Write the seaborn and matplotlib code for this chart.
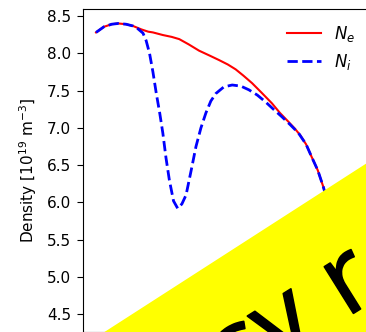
import matplotlib
matplotlib.use("Agg")
import matplotlib.pyplot as plt
import matplotlib.patheffects as pe
import seaborn as sns
from matplotlib.patches import Polygon

# ---- data ----
x_ne = [0, 0.03, 0.06, 0.085, 0.115, 0.142, 0.174, 0.2, 0.218, 0.256, 0.29, 0.319,
        0.355, 0.395, 0.435, 0.471, 0.505, 0.535, 0.565, 0.598, 0.635, 0.674, 0.705,
        0.738, 0.762, 0.782, 0.805, 0.826, 0.85, 0.871, 0.9, 0.93, 0.96, 1.0]
ne = [8.28, 8.355, 8.39, 8.40, 8.39, 8.366, 8.32, 8.29, 8.28, 8.245, 8.22, 8.19,
      8.12, 8.035, 7.97, 7.91, 7.85, 7.785, 7.70, 7.60, 7.47, 7.33, 7.20,
      7.08, 6.99, 6.905, 6.78, 6.614, 6.43, 6.21, 5.85, 5.40, 4.95, 4.47]

x_ni = [0, 0.03, 0.06, 0.085, 0.115, 0.142, 0.16, 0.18, 0.192, 0.205, 0.218, 0.231,
        0.244, 0.256, 0.268, 0.281, 0.297, 0.313, 0.329, 0.345, 0.364, 0.383, 0.402,
        0.421, 0.44, 0.459, 0.49, 0.522, 0.555, 0.586, 0.618, 0.649, 0.68, 0.712,
        0.745, 0.776, 0.805, 0.826, 0.85, 0.871, 0.9, 0.93, 0.96, 1.0]
ni = [8.28, 8.355, 8.39, 8.40, 8.39, 8.366, 8.33, 8.27, 8.17, 8.0, 7.75, 7.46,
      7.2, 6.93, 6.6, 6.30, 6.02, 5.92, 5.98, 6.10, 6.42, 6.75, 7.0,
      7.2, 7.36, 7.46, 7.55, 7.575, 7.56, 7.51, 7.44, 7.35, 7.25, 7.15,
      7.04, 6.93, 6.78, 6.614, 6.43, 6.21, 5.85, 5.40, 4.95, 4.47]

series_labels = ["$N_e$", "$N_i$"]
y_ticks = [4.5, 5.0, 5.5, 6.0, 6.5, 7.0, 7.5, 8.0, 8.5]
y_label = "Density [$10^{19}$ m$^{-3}$]"
banner_words = ["Easy", "r"]

# ---- figure ----
W, H = 366, 332
fig = plt.figure(figsize=(W / 100, H / 100), dpi=100)
ax = fig.add_axes([83 / W, 0.5 / H, (370 - 83) / W, (331.5 - 9) / H])

sns.lineplot(x=x_ne, y=ne, ax=ax, color="red", linewidth=1.5, label=series_labels[0])
sns.lineplot(x=x_ni, y=ni, ax=ax, color="blue", linewidth=2, linestyle="--",
             label=series_labels[1])

ax.set_ylim(4.27, 8.594)
ax.set_yticks(y_ticks)
ax.set_yticklabels([f"{v:.1f}" for v in y_ticks])
ax.tick_params(axis="y", labelsize=11, length=4.3, pad=4.1)
ax.tick_params(axis="x", labelbottom=False, length=4.3)
ax.set_ylabel(y_label, fontsize=11, labelpad=5.5)
ax.legend(loc="upper right", frameon=False, fontsize=12)

# yellow banner overlay
poly = Polygon([(99.3 / W, -0.01), (1.01, (H - 163.3) / H + 0.006), (1.01, -0.01)],
               closed=True, transform=fig.transFigure, facecolor="#ffff00",
               edgecolor="none", zorder=10)
fig.patches.append(poly)
common = dict(transform=fig.transFigure, rotation=32, rotation_mode="anchor",
              va="baseline", fontsize=74, family="Open Sans", color="black",
              zorder=11,
              path_effects=[pe.withStroke(linewidth=1.2, foreground="black")])
fig.text(320 / W, 1 - 335.5 / H, banner_words[0], ha="right", **common)
fig.text(346 / W, 1 - 318 / H, banner_words[1], ha="left", **common)

fig.savefig("out.png", dpi=100)
